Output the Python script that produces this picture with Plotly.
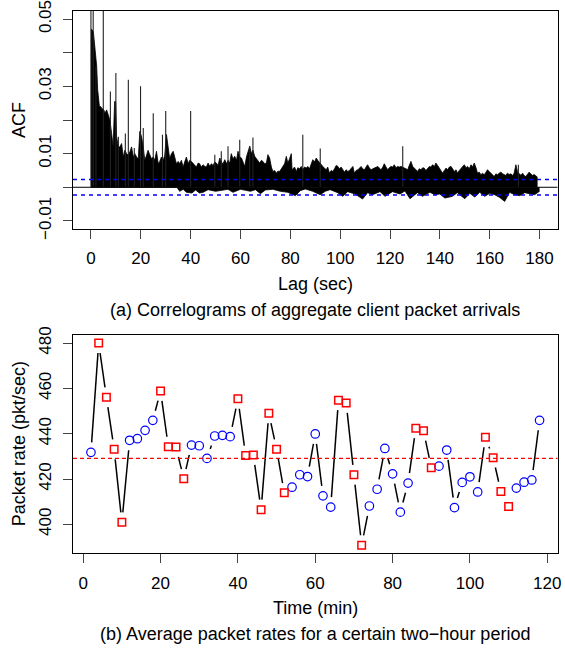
import math
import plotly.graph_objects as go

# ---------------- Data: (a) correlogram ----------------
# upper envelope of the dense ACF spikes (lag in sec, ACF)
acf_hi_lag = [0.0, 0.5, 1.0, 1.6, 2.0, 2.3, 2.7, 3.4, 3.9, 4.3, 5.2, 5.6, 6.3, 7.0, 7.6, 8.3, 8.9,
              9.5, 9.9, 10.3, 11.0, 11.6, 12.3, 13.0, 13.6, 14.3, 15.0, 15.7, 16.3, 17.0, 17.6, 18.3,
              19.0, 19.6, 20.3, 21.0, 21.6, 22.3, 22.9, 23.6, 24.3, 25.0, 25.6, 26.3, 27.0, 27.6,
              28.3, 29.0, 29.6, 30.3, 31.0, 31.6, 32.3, 33.0, 33.6, 34.3, 35.0, 35.6, 36.3, 37.0,
              37.6, 38.3, 39.0, 39.6, 40.3, 41.0, 41.6, 42.3, 43.0, 43.6, 44.3, 45.0, 45.7, 46.3,
              47.0, 47.7, 48.3, 49.0, 49.7, 50.3, 51.0, 51.7, 52.3, 53.0, 53.7, 54.4, 55.0, 55.7,
              56.3, 57.0, 57.7, 58.4, 59.0, 59.7, 60.4, 61.0, 61.7, 62.4, 63.0, 63.7, 64.4, 65.0,
              65.7, 66.4, 67.0, 67.7, 68.4, 69.0, 69.7, 70.4, 71.0, 71.7, 72.4, 73.0, 73.7, 74.4,
              75.0, 75.7, 76.4, 77.0, 77.7, 78.4, 79.0, 79.7, 80.4, 80.7, 81.7, 82.4, 83.0, 83.7,
              84.4, 85.0, 85.7, 86.4, 87.0, 87.7, 88.4, 89.0, 89.7, 90.4, 91.0, 91.7, 92.4, 93.0,
              93.7, 94.4, 95.0, 95.7, 96.4, 97.1, 97.7, 98.4, 99.1, 99.7, 100.4, 101.1, 101.7,
              102.4, 103.1, 103.7, 104.4, 105.1, 105.7, 106.4, 107.1, 107.7, 108.4, 109.0, 109.7,
              110.4, 111.0, 111.7, 112.4, 113.1, 113.7, 114.4, 115.1, 115.7, 116.4, 117.1, 117.7,
              118.4, 119.1, 119.7, 120.4, 121.1, 121.7, 122.4, 123.1, 123.7, 124.4, 126.4, 127.1,
              127.7, 128.4, 129.1, 129.7, 130.4, 131.1, 131.7, 132.4, 133.1, 133.7, 134.4, 135.1,
              135.8, 136.4, 137.1, 137.8, 138.4, 139.1, 139.8, 140.4, 141.1, 141.8, 142.5, 143.1,
              143.8, 144.5, 145.1, 145.8, 146.5, 147.1, 147.8, 148.5, 149.1, 149.8, 150.5, 151.1,
              151.8, 152.5, 153.1, 153.8, 154.5, 155.1, 155.8, 156.5, 157.1, 157.8, 158.5, 159.1,
              159.8, 160.5, 161.1, 161.8, 162.5, 163.1, 163.8, 164.5, 165.2, 165.8, 166.5, 167.1,
              167.8, 168.5, 169.2, 169.8, 170.5, 171.2, 171.8, 172.5, 173.2, 173.8, 174.5, 175.2,
              175.8, 176.5, 177.2, 177.8, 178.5, 179.2, 180.0]
acf_hi_val = [0.0470, 0.0468, 0.0460, 0.0410, 0.0360, 0.0360, 0.0290, 0.0240, 0.0240, 0.0235,
              0.0230, 0.0220, 0.0230, 0.0210, 0.0200, 0.0160, 0.0120, 0.0255, 0.0255, 0.0150,
              0.0120, 0.0120, 0.0130, 0.0090, 0.0110, 0.0100, 0.0095, 0.0107, 0.0120, 0.0090,
              0.0100, 0.0090, 0.0085, 0.0166, 0.0150, 0.0120, 0.0080, 0.0095, 0.0110, 0.0097,
              0.0085, 0.0090, 0.0080, 0.0107, 0.0070, 0.0077, 0.0090, 0.0080, 0.0095, 0.0157,
              0.0107, 0.0085, 0.0100, 0.0107, 0.0090, 0.0070, 0.0077, 0.0070, 0.0080, 0.0060,
              0.0075, 0.0090, 0.0070, 0.0080, 0.0077, 0.0070, 0.0065, 0.0060, 0.0072, 0.0070,
              0.0060, 0.0067, 0.0062, 0.0060, 0.0072, 0.0062, 0.0070, 0.0065, 0.0075, 0.0072,
              0.0065, 0.0087, 0.0075, 0.0070, 0.0082, 0.0070, 0.0080, 0.0072, 0.0100, 0.0085,
              0.0092, 0.0080, 0.0107, 0.0090, 0.0087, 0.0075, 0.0062, 0.0090, 0.0107, 0.0122,
              0.0100, 0.0110, 0.0092, 0.0085, 0.0077, 0.0072, 0.0080, 0.0077, 0.0070, 0.0072,
              0.0097, 0.0087, 0.0060, 0.0047, 0.0050, 0.0042, 0.0048, 0.0047, 0.0055, 0.0062,
              0.0070, 0.0092, 0.0072, 0.0085, 0.0100, 0.0052, 0.0060, 0.0047, 0.0058, 0.0055,
              0.0062, 0.0052, 0.0060, 0.0057, 0.0062, 0.0055, 0.0070, 0.0082, 0.0075, 0.0087,
              0.0080, 0.0072, 0.0068, 0.0062, 0.0058, 0.0052, 0.0060, 0.0042, 0.0050, 0.0047,
              0.0055, 0.0065, 0.0062, 0.0055, 0.0060, 0.0052, 0.0045, 0.0052, 0.0047, 0.0050,
              0.0057, 0.0062, 0.0042, 0.0050, 0.0052, 0.0058, 0.0062, 0.0055, 0.0052, 0.0060,
              0.0067, 0.0058, 0.0052, 0.0055, 0.0057, 0.0060, 0.0062, 0.0057, 0.0052, 0.0060,
              0.0070, 0.0060, 0.0052, 0.0058, 0.0062, 0.0060, 0.0067, 0.0058, 0.0062, 0.0060,
              0.0062, 0.0055, 0.0052, 0.0065, 0.0077, 0.0062, 0.0057, 0.0050, 0.0047, 0.0055,
              0.0052, 0.0058, 0.0057, 0.0050, 0.0057, 0.0062, 0.0060, 0.0067, 0.0062, 0.0072,
              0.0065, 0.0057, 0.0050, 0.0042, 0.0050, 0.0057, 0.0052, 0.0060, 0.0062, 0.0055,
              0.0047, 0.0052, 0.0042, 0.0050, 0.0057, 0.0062, 0.0067, 0.0058, 0.0062, 0.0055,
              0.0067, 0.0060, 0.0072, 0.0058, 0.0042, 0.0045, 0.0037, 0.0042, 0.0037, 0.0045,
              0.0052, 0.0047, 0.0042, 0.0038, 0.0032, 0.0040, 0.0037, 0.0042, 0.0045, 0.0040,
              0.0037, 0.0035, 0.0042, 0.0038, 0.0040, 0.0035, 0.0042, 0.0067, 0.0045, 0.0040,
              0.0036, 0.0042, 0.0035, 0.0032, 0.0038, 0.0045, 0.0040, 0.0035, 0.0038, 0.0033,
              0.0030]

# lower envelope (negative excursions), lag in sec
acf_lo_lag = [0.0, 34.5, 35.6, 37.0, 38.3, 40.5, 42.0, 43.5, 45.0, 47.0, 50.0, 53.0, 55.0, 57.0,
              60.0, 62.0, 64.0, 66.0, 68.0, 70.0, 73.0, 76.0, 79.0, 82.0, 84.0, 86.0, 89.0, 92.0,
              94.0, 96.0, 99.0, 101.0, 103.0, 106.0, 109.0, 111.0, 113.0, 116.0, 118.0, 121.0,
              124.0, 126.0, 128.0, 131.0, 133.0, 136.0, 138.0, 140.0, 142.0, 145.0, 147.0, 150.0,
              152.0, 154.0, 156.0, 158.0, 160.0, 162.0, 164.0, 166.0, 168.0, 170.0, 172.0, 174.0,
              176.0, 178.0, 180.0]
acf_lo_val = [0.0, 0.0, -0.0012, -0.0006, -0.0015, -0.0017, -0.0008, -0.0017, -0.0015, -0.0007,
              -0.0012, -0.0008, -0.0006, -0.0015, -0.0006, -0.0009, -0.0012, -0.0007, -0.0019,
              -0.0008, -0.0006, -0.0012, -0.0015, -0.0025, -0.0010, -0.0005, -0.0012, -0.0022,
              -0.0012, -0.0007, -0.0016, -0.0027, -0.0013, -0.0020, -0.0035, -0.0016, -0.0022,
              -0.0013, -0.0027, -0.0013, -0.0020, -0.0011, -0.0034, -0.0016, -0.0027, -0.0015,
              -0.0022, -0.0020, -0.0032, -0.0027, -0.0016, -0.0034, -0.0018, -0.0029, -0.0015,
              -0.0027, -0.0018, -0.0022, -0.0030, -0.0042, -0.0015, -0.0022, -0.0025, -0.0016,
              -0.0020, -0.0022, -0.0012]

# prominent isolated spikes (lag, ACF)
spike_lag = [0.0, 0.9, 2.0, 4.95, 7.8, 10.0, 11.0, 13.8, 15.0, 17.4, 19.9, 21.0, 25.0, 28.7,
             30.0, 40.0, 49.7, 52.3, 55.0, 59.7, 63.7, 65.0, 85.0, 92.0, 125.1, 171.5]
spike_val = [1.0, 0.06, 0.036, 0.06, 0.0285, 0.034, 0.015, 0.016, 0.032, 0.0117, 0.030, 0.0176,
             0.022, 0.0156, 0.0227, 0.0227, 0.0097, 0.0107, 0.0122, 0.0141, 0.0122, 0.0148,
             0.0156, 0.0115, 0.0122, 0.0067]

acf_ci = 0.0023   # blue dashed confidence bound

# ---------------- Data: (b) average packet rates ----------------
time_min = [2, 4, 6, 8, 10, 12, 14, 16, 18, 20, 22, 24, 26, 28, 30, 32, 34, 36, 38, 40,
            42, 44, 46, 48, 50, 52, 54, 56, 58, 60, 62, 64, 66, 68, 70, 72, 74, 76, 78, 80,
            82, 84, 86, 88, 90, 92, 94, 96, 98, 100, 102, 104, 106, 108, 110, 112, 114, 116, 118]
rate = [431.8, 480.0, 456.1, 433.1, 400.9, 437.1, 437.8, 441.5, 445.9, 458.9,
        434.3, 434.1, 420.1, 435.0, 434.7, 429.1, 439.0, 439.3, 438.7, 455.4,
        430.4, 430.6, 406.5, 449.0, 433.2, 413.9, 416.4, 421.9, 421.1, 439.9,
        412.6, 407.6, 454.8, 453.6, 421.9, 390.8, 408.1, 415.5, 433.5, 422.3,
        405.4, 418.2, 442.4, 441.3, 425.0, 425.7, 432.8, 407.4, 418.5, 421.0,
        414.3, 438.4, 429.4, 414.5, 407.9, 416.0, 418.6, 419.6, 445.9]
is_square = [0, 1, 1, 1, 1, 0, 0, 0, 0, 1,
             1, 1, 1, 0, 0, 0, 0, 0, 0, 1,
             1, 1, 1, 1, 1, 1, 0, 0, 0, 0,
             0, 0, 1, 1, 1, 1, 0, 0, 0, 0,
             0, 0, 1, 1, 1, 0, 0, 0, 0, 0,
             0, 1, 1, 1, 1, 0, 0, 0, 0]
mean_rate = 429.1

# ---------------- Layout geometry ----------------
W, H = 565, 649
FONT = "Liberation Sans, Arial, Helvetica, sans-serif"
FS_TICK = 17
FS_LAB = 18
X0, X1 = 73, 557.5
TOP_T, TOP_B = 11, 229
BOT_T, BOT_B = 335, 553.3
xdom = [X0 / W, X1 / W]
ydom_top = [1 - TOP_B / H, 1 - TOP_T / H]
ydom_bot = [1 - BOT_B / H, 1 - BOT_T / H]

xr_top = [-7.2, 187.2]
yr_top = [-0.0124, 0.0524]
xr_bot = [-2.64, 122.64]
yr_bot = [387.23, 483.57]

fig = go.Figure()

# ---- (a) ACF: dense spike mass as filled areas above and below zero ----
fig.add_trace(go.Scatter(x=acf_hi_lag, y=acf_hi_val, fill="tozeroy", fillcolor="black",
                         mode="lines", line=dict(color="black", width=0.8),
                         xaxis="x", yaxis="y", hoverinfo="skip", showlegend=False))
fig.add_trace(go.Scatter(x=acf_lo_lag, y=acf_lo_val, fill="tozeroy", fillcolor="black",
                         mode="lines", line=dict(color="black", width=0.8),
                         xaxis="x", yaxis="y", hoverinfo="skip", showlegend=False))

sx, sy = [], []
for l, v in zip(spike_lag, spike_val):
    sx += [l, l, None]
    sy += [0, v, None]
fig.add_trace(go.Scatter(x=sx, y=sy, mode="lines", line=dict(color="#222", width=1.1),
                         xaxis="x", yaxis="y", hoverinfo="skip", showlegend=False))

for yv, col, dash, wd in [(0, "black", "solid", 1), (acf_ci, "#0000FF", "4px,4px", 1.5),
                          (-acf_ci, "#0000FF", "4px,4px", 1.5)]:
    fig.add_shape(type="line", xref="x domain", yref="y", x0=0, x1=1, y0=yv, y1=yv,
                  line=dict(color=col, width=wd, dash=dash), layer="above")

# ---- (b) packet rates: R type="b" style (segments with gaps at points) ----
px_x = (X1 - X0) / (xr_bot[1] - xr_bot[0])
px_y = (BOT_B - BOT_T) / (yr_bot[1] - yr_bot[0])
GAP = 10
lx, ly = [], []
for i in range(len(time_min) - 1):
    ddx = time_min[i + 1] - time_min[i]
    ddy = rate[i + 1] - rate[i]
    d = math.hypot(ddx * px_x, ddy * px_y)
    if d > 2 * GAP:
        f = GAP / d
        lx += [time_min[i] + ddx * f, time_min[i + 1] - ddx * f, None]
        ly += [rate[i] + ddy * f, rate[i + 1] - ddy * f, None]
fig.add_trace(go.Scatter(x=lx, y=ly, mode="lines", line=dict(color="black", width=1.5),
                         xaxis="x2", yaxis="y2", hoverinfo="skip", showlegend=False))

fig.add_shape(type="line", xref="x2 domain", yref="y2", x0=0, x1=1, y0=mean_rate, y1=mean_rate,
              line=dict(color="#FF0000", width=1.2, dash="4px,3px"))

cx = [t for t, s in zip(time_min, is_square) if not s]
cy = [r for r, s in zip(rate, is_square) if not s]
qx = [t for t, s in zip(time_min, is_square) if s]
qy = [r for r, s in zip(rate, is_square) if s]
fig.add_trace(go.Scatter(x=cx, y=cy, mode="markers", xaxis="x2", yaxis="y2",
                         marker=dict(symbol="circle-open", size=8.5, color="#0000FF",
                                     line=dict(width=1.2, color="#0000FF")),
                         hoverinfo="skip", showlegend=False))
fig.add_trace(go.Scatter(x=qx, y=qy, mode="markers", xaxis="x2", yaxis="y2",
                         marker=dict(symbol="square-open", size=7.5, color="#FF0000",
                                     line=dict(width=1.5, color="#FF0000")),
                         hoverinfo="skip", showlegend=False))

axis_common = dict(showline=True, mirror=True, linecolor="black", linewidth=1,
                   ticks="outside", ticklen=9, tickcolor="#444", tickwidth=1,
                   showgrid=False, zeroline=False, automargin=False,
                   ticklabeloverflow="allow",
                   tickfont=dict(family=FONT, size=FS_TICK, color="black"))

fig.update_layout(
    template="none",
    width=W, height=H, margin=dict(l=0, r=0, t=0, b=0, pad=0, autoexpand=False),
    paper_bgcolor="white", plot_bgcolor="white", showlegend=False,
    font=dict(family=FONT, size=FS_TICK, color="black"),
    xaxis=dict(domain=xdom, range=xr_top, anchor="y",
               tickvals=[0, 20, 40, 60, 80, 100, 120, 140, 160, 180],
               ticktext=["0", "20", "40", "60", "80", "100", "120", "140", "160", "180"],
               ticklabelstandoff=5, **axis_common),
    yaxis=dict(domain=ydom_top, range=yr_top, anchor="x",
               tickvals=[-0.01, 0.0, 0.01, 0.02, 0.03, 0.04, 0.05],
               ticktext=["\u22120.01", "", "0.01", "", "0.03", "", "0.05"],
               tickangle=-90, ticklabelstandoff=5, **axis_common),
    xaxis2=dict(domain=xdom, range=xr_bot, anchor="y2",
                tickvals=[0, 20, 40, 60, 80, 100, 120],
                ticktext=["0", "20", "40", "60", "80", "100", "120"],
                ticklabelstandoff=5, **axis_common),
    yaxis2=dict(domain=ydom_bot, range=yr_bot, anchor="x2",
                tickvals=[400, 420, 440, 460, 480],
                ticktext=["400", "420", "440", "460", "480"],
                tickangle=-90, ticklabelstandoff=5, **axis_common),
)

def ann(text, xpx, ypx, angle=0):
    fig.add_annotation(text=text, x=xpx / W, y=1 - ypx / H, xref="paper", yref="paper",
                       showarrow=False, xanchor="center", yanchor="middle", textangle=angle,
                       font=dict(family=FONT, size=FS_LAB, color="black"))

ann("ACF", 19, (TOP_T + TOP_B) / 2, -90)
ann("Lag (sec)", (X0 + X1) / 2, 284)
ann("(a) Correlograms of aggregate client packet arrivals", (X0 + X1) / 2, 310)
ann("Packet rate (pkt/sec)", 19, (BOT_T + BOT_B) / 2, -90)
ann("Time (min)", (X0 + X1) / 2, 608)
ann("(b) Average packet rates for a certain two\u2212hour period", (X0 + X1) / 2, 634)

fig.write_html("out.html")
